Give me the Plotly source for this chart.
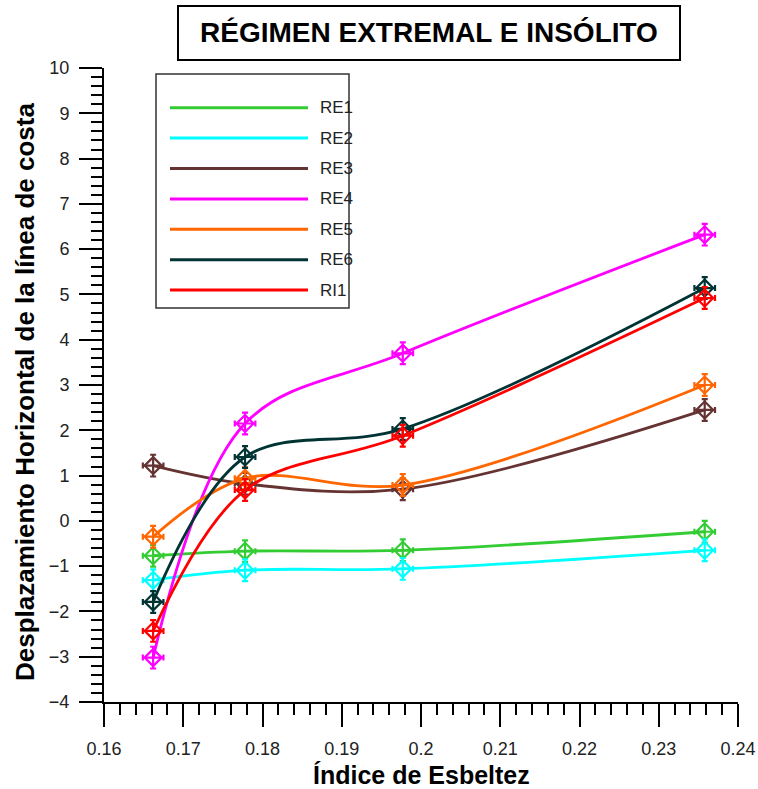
import plotly.graph_objects as go

# ---------------- data ----------------
x_vals = [0.1662, 0.1778, 0.1977, 0.2358]

series_names = ["RE1", "RE2", "RE3", "RE4", "RE5", "RE6", "RI1"]
RE1 = [-0.77, -0.67, -0.65, -0.24]
RE2 = [-1.31, -1.09, -1.06, -0.65]
RE3 = [1.22, 0.82, 0.70, 2.45]
RE4 = [-3.02, 2.15, 3.70, 6.32]
RE5 = [-0.35, 0.94, 0.79, 3.00]
RE6 = [-1.79, 1.41, 2.03, 5.14]
RI1 = [-2.43, 0.68, 1.88, 4.92]
series_values = [RE1, RE2, RE3, RE4, RE5, RE6, RI1]

x_tickvals = [0.16, 0.17, 0.18, 0.19, 0.20, 0.21, 0.22, 0.23, 0.24]
x_ticktext = ["0.16", "0.17", "0.18", "0.19", "0.2", "0.21", "0.22", "0.23", "0.24"]
y_tickvals = list(range(-4, 11))

title_text = "RÉGIMEN EXTREMAL E INSÓLITO"
x_title = "Índice de Esbeltez"
y_title = "Desplazamiento Horizontal de la línea de costa"

colors = ["#33CC33", "#00FFFF", "#663333", "#FF00FF", "#FF6600", "#003333", "#FF0000"]

# ---------------- layout geometry (pixels) ----------------
W, H = 758, 789
L, R, T, B = 104, 20, 68, 87
PW, PH = W - L - R, H - T - B


def px(xp):
    return (xp - L) / PW


def py(yp):
    return (H - B - yp) / PH


FONT = "Liberation Sans, Arial, sans-serif"

fig = go.Figure()
for name, vals, col in zip(series_names, series_values, colors):
    fig.add_trace(go.Scatter(
        x=x_vals, y=vals, name=name, mode="lines+markers",
        line=dict(color=col, width=2.8, shape="spline", smoothing=1.0),
        marker=dict(symbol="diamond-open", size=13, color=col, line=dict(width=2.2, color=col)),
        error_x=dict(type="constant", value=0.0013, color=col, thickness=2.2, width=3),
        error_y=dict(type="constant", value=0.24, color=col, thickness=2.2, width=3),
        showlegend=False,
    ))

shapes = []
annotations = []

# Title box
shapes.append(dict(type="rect", xref="paper", yref="paper",
                   x0=px(178), x1=px(680), y0=py(60), y1=py(6),
                   line=dict(color="black", width=2), fillcolor="white", layer="above"))
annotations.append(dict(xref="paper", yref="paper", x=px(429), y=py(33),
                        text="<b>" + title_text + "</b>", showarrow=False,
                        font=dict(family=FONT, size=28, color="black"),
                        xanchor="center", yanchor="middle"))

# Legend box (drawn manually to match long sample lines)
shapes.append(dict(type="rect", xref="paper", yref="paper",
                   x0=px(156), x1=px(349), y0=py(308), y1=py(74),
                   line=dict(color="#333333", width=1.5), fillcolor="white", layer="above"))
for i, (name, col) in enumerate(zip(series_names, colors)):
    yy = 107.7 + i * 30.4
    shapes.append(dict(type="line", xref="paper", yref="paper",
                       x0=px(170), x1=px(308), y0=py(yy), y1=py(yy),
                       line=dict(color=col, width=3), layer="above"))
    annotations.append(dict(xref="paper", yref="paper", x=px(318), y=py(yy),
                            text=name, showarrow=False, xanchor="left", yanchor="middle",
                            font=dict(family=FONT, size=17, color="#222222")))

# Axis titles
annotations.append(dict(xref="paper", yref="paper", x=px(421), y=py(775),
                        text="<b>" + x_title + "</b>", showarrow=False,
                        xanchor="center", yanchor="middle",
                        font=dict(family=FONT, size=25, color="black")))
annotations.append(dict(xref="paper", yref="paper", x=px(25), y=py(392),
                        text="<b>" + y_title + "</b>", showarrow=False, textangle=-90,
                        xanchor="center", yanchor="middle",
                        font=dict(family=FONT, size=26, color="black")))

fig.update_layout(
    width=W, height=H,
    margin=dict(l=L, r=R, t=T, b=B, pad=0, autoexpand=False),
    paper_bgcolor="white", plot_bgcolor="white",
    shapes=shapes, annotations=annotations,
    showlegend=False,
    xaxis=dict(range=[0.16, 0.24], tickvals=x_tickvals, ticktext=x_ticktext,
               automargin=False,
               ticks="outside", ticklen=23, tickwidth=2, tickcolor="black",
               showline=True, linecolor="black", linewidth=2,
               showgrid=False, zeroline=False,
               minor=dict(dtick=0.002, ticks="outside", ticklen=11, tickwidth=2,
                          tickcolor="black", showgrid=False),
               tickfont=dict(family=FONT, size=18, color="#222222"),
               ticklabelstandoff=6),
    yaxis=dict(range=[-4, 10], tickvals=y_tickvals,
               automargin=False,
               ticks="outside", ticklen=23, tickwidth=2, tickcolor="black",
               showline=True, linecolor="black", linewidth=2,
               showgrid=False, zeroline=False,
               minor=dict(dtick=0.2, ticks="outside", ticklen=11, tickwidth=2,
                          tickcolor="black", showgrid=False),
               tickfont=dict(family=FONT, size=18, color="#222222"),
               ticklabelstandoff=6),
)

fig.write_html("out.html", config={"displayModeBar": False},
               post_script="document.body.style.margin='0px';document.body.style.overflow='hidden';")
